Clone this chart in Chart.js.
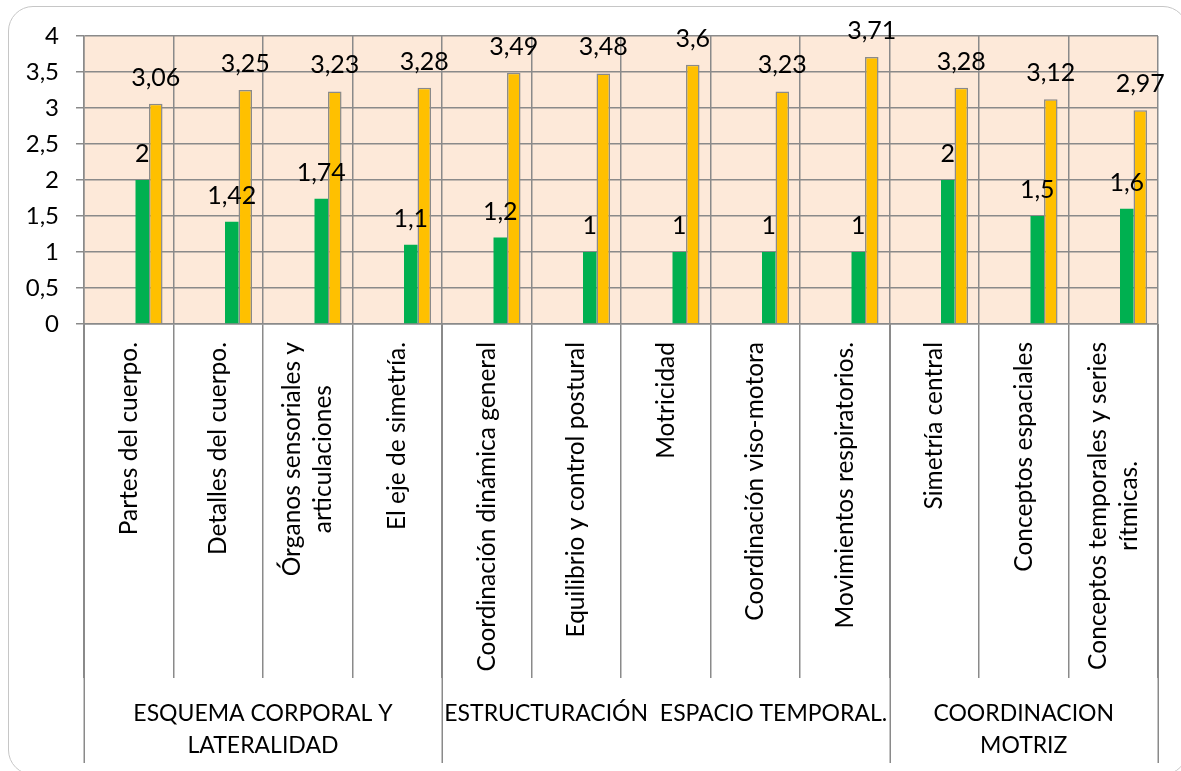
<!DOCTYPE html>
<html>
<head>
<meta charset="utf-8">
<script src="https://cdn.jsdelivr.net/npm/chart.js@4"></script>
<style>
  html, body { margin: 0; background: #fff; overflow: hidden; }
  #wrap { position: relative; width: 1181px; height: 771px; overflow: hidden; }
  #frame { position: absolute; left: 8px; top: 6px; width: 1180px; height: 769px; box-sizing: border-box;
           border: 1.5px solid #c6c6c6; border-radius: 25px; pointer-events: none; }
</style>
</head>
<body>
<div id="wrap">
  <canvas id="mainChart"></canvas>
  <div id="frame"></div>
</div>
<script>
// categorias del eje x (las de dos lineas van en array)
var categorias = [
  'Partes del cuerpo.',
  'Detalles del cuerpo.',
  ['Órganos sensoriales y', 'articulaciones'],
  'El eje de simetría.',
  'Coordinación dinámica general',
  'Equilibrio y control postural',
  'Motricidad',
  'Coordinación viso-motora',
  'Movimientos respiratorios.',
  'Simetría central',
  'Conceptos espaciales',
  ['Conceptos temporales y series', 'rítmicas.']
];
var grupos = [
  ['ESQUEMA CORPORAL Y', 'LATERALIDAD'],
  ['ESTRUCTURACIÓN  ESPACIO TEMPORAL.'],
  ['COORDINACION', 'MOTRIZ']
];
var gruposTamano = [4, 5, 3];

var valoresVerde = [2, 1.42, 1.74, 1.1, 1.2, 1, 1, 1, 1, 2, 1.5, 1.6];
var valoresNaranja = [3.06, 3.25, 3.23, 3.28, 3.49, 3.48, 3.6, 3.23, 3.71, 3.28, 3.12, 2.97];

// eje y
var yMin = 0;
var yMax = 4;
var yPaso = 0.5;

var fuente = 'Lato, "Open Sans", sans-serif';
var gris = '#8a8a8a';

function coma(v) {
  return String(v).replace('.', ',');
}

var extras = {
  id: 'extras',
  beforeDraw: function(chart) {
    var a = chart.chartArea, ctx = chart.ctx;
    ctx.save();
    ctx.fillStyle = '#FDE9D9';
    ctx.fillRect(a.left, a.top, a.right - a.left, a.bottom - a.top);
    ctx.restore();
  },
  afterDatasetsDraw: function(chart) {
    var ctx = chart.ctx;
    ctx.save();
    ctx.font = '25px ' + fuente;
    ctx.fillStyle = '#000';
    ctx.textAlign = 'center';
    ctx.textBaseline = 'alphabetic';
    chart.data.datasets.forEach(function(ds, i) {
      if (!ds.data.length) return;
      chart.getDatasetMeta(i).data.forEach(function(bar, j) {
        ctx.fillText(coma(ds.data[j]), bar.x, bar.y - 18);
      });
    });
    ctx.restore();
  },
  afterDraw: function(chart) {
    var ctx = chart.ctx, x = chart.scales.x, a = chart.chartArea;
    var ancho = x.getPixelForValue(1) - x.getPixelForValue(0);
    ctx.save();
    ctx.fillStyle = '#000';
    ctx.font = '24.5px ' + fuente;

    // etiquetas de categoria giradas
    categorias.forEach(function(c, i) {
      var lineas = Array.isArray(c) ? c : [c];
      var maxW = Math.max.apply(null, lineas.map(function(l) { return ctx.measureText(l).width; }));
      ctx.save();
      ctx.translate(x.getPixelForValue(i), a.bottom + 18);
      ctx.rotate(-Math.PI / 2);
      ctx.textAlign = 'center';
      ctx.textBaseline = 'middle';
      lineas.forEach(function(l, k) {
        ctx.fillText(l, -maxW / 2, (k - (lineas.length - 1) / 2) * 31);
      });
      ctx.restore();
    });

    // grupos y sus lineas
    ctx.font = '23px ' + fuente;
    ctx.strokeStyle = gris;
    ctx.lineWidth = 1.5;
    ctx.textAlign = 'center';
    ctx.textBaseline = 'middle';
    var inicio = 0;
    var bordes = [x.getPixelForValue(0) - ancho / 2];
    grupos.forEach(function(g, gi) {
      var izq = x.getPixelForValue(inicio) - ancho / 2;
      var der = x.getPixelForValue(inicio + gruposTamano[gi] - 1) + ancho / 2;
      bordes.push(der);
      g.forEach(function(l, k) {
        ctx.fillText(l, (izq + der) / 2, a.bottom + 390 + k * 32);
      });
      inicio += gruposTamano[gi];
    });
    bordes.forEach(function(bx) {
      bx = Math.round(bx) + 0.25;
      ctx.beginPath();
      ctx.moveTo(bx, a.bottom);
      ctx.lineTo(bx, x.bottom);
      ctx.stroke();
    });
    ctx.restore();
  }
};

var ctx = document.getElementById('mainChart').getContext('2d');
var chart = new Chart(ctx, {
  type: 'bar',
  data: {
    labels: categorias,
    datasets: [
      // series vacias como en la hoja original (desplazan las barras)
      { data: [] },
      { data: [] },
      { data: [] },
      { data: valoresVerde, backgroundColor: '#00B050', borderWidth: 0 },
      { data: valoresNaranja, backgroundColor: '#FFC000', borderColor: gris, borderWidth: 1.5 }
    ]
  },
  options: {
    responsive: true,
    maintainAspectRatio: false,
    animation: false,
    layout: { padding: { left: 0, top: 36, right: 23, bottom: 8 } },
    plugins: { legend: { display: false }, tooltip: { enabled: false } },
    datasets: { bar: { categoryPercentage: 0.755, barPercentage: 1 } },
    scales: {
      x: {
        offset: true,
        grid: { offset: true, color: gris, lineWidth: 1.5, tickLength: 354 },
        border: { color: gris, width: 1.5 },
        ticks: { display: false },
        afterFit: function(s) { s.height = 439; }
      },
      y: {
        min: yMin,
        max: yMax,
        grid: { color: gris, lineWidth: 1.5, tickLength: 8 },
        border: { color: gris, width: 1.5 },
        ticks: {
          stepSize: yPaso,
          padding: 17,
          color: '#000',
          font: { family: fuente, size: 24 },
          callback: function(v) { return coma(v); }
        },
        afterFit: function(s) { s.width = 84; }
      }
    }
  },
  plugins: [extras]
});
</script>
</body>
</html>
